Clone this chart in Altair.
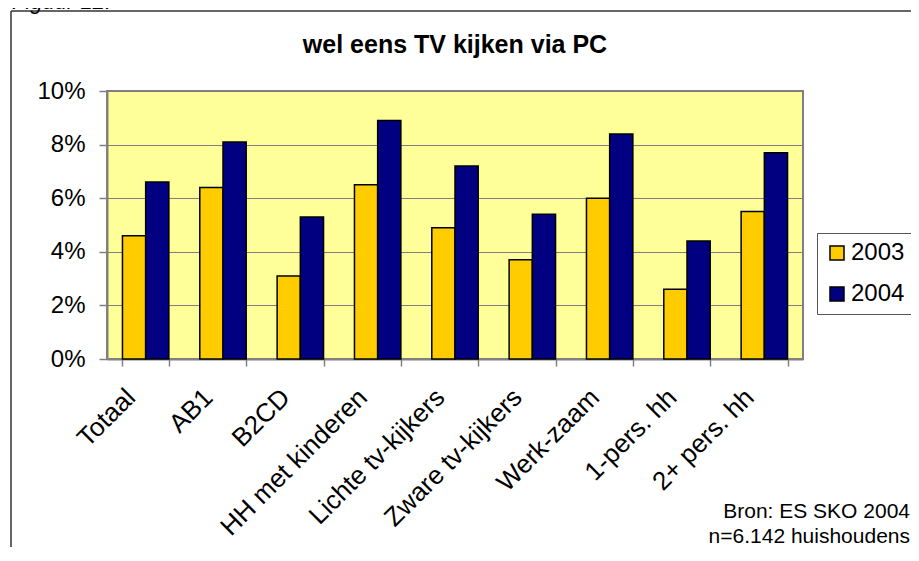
import altair as alt
import pandas as pd

categories = ["Totaal", "AB1", "B2CD", "HH met kinderen", "Lichte tv-kijkers",
              "Zware tv-kijkers", "Werk-zaam", "1-pers. hh", "2+ pers. hh"]
years = ["2003", "2004"]
v2003 = [4.6, 6.4, 3.1, 6.5, 4.9, 3.7, 6.0, 2.6, 5.5]
v2004 = [6.6, 8.1, 5.3, 8.9, 7.2, 5.4, 8.4, 4.4, 7.7]
y_ticks = [0, 2, 4, 6, 8, 10]
colors = ["#FFCC00", "#000080"]
title_text = "wel eens TV kijken via PC"
figure_label = "Figuur 12."
source_lines = ["Bron: ES SKO 2004", "n=6.142 huishoudens"]

rows = []
for c, a, b in zip(categories, v2003, v2004):
    rows.append({"cat": c, "year": years[0], "val": a})
    rows.append({"cat": c, "year": years[1], "val": b})
df = pd.DataFrame(rows)

W, H = 696, 268
FONT = "Liberation Sans"

bars = alt.Chart(df).mark_bar(stroke="black", strokeWidth=1.5).encode(
    x=alt.X("cat:N", sort=categories, title=None,
            scale=alt.Scale(paddingInner=0.4, paddingOuter=0.2),
            axis=alt.Axis(labelAngle=-45, labelAlign="right", labelBaseline="middle",
                          labelFontSize=26, labelFont=FONT, labelColor="black",
                          labelLimit=400, labelOverlap=False,
                          tickBand="extent", tickSize=7, tickColor="#808080", tickWidth=1.5,
                          domainColor="#808080", domainWidth=2,
                          labelPadding=27, labelOffset=-15, grid=False)),
    xOffset=alt.XOffset("year:N", sort=years,
                        scale=alt.Scale(paddingInner=0, paddingOuter=0)),
    y=alt.Y("val:Q", title=None, scale=alt.Scale(domain=[0, 10], nice=False),
            axis=alt.Axis(values=y_ticks, labelExpr="datum.value + '%'",
                          labelFontSize=24, labelFont=FONT, labelColor="black",
                          labelPadding=14, tickSize=8, tickColor="#808080", tickWidth=1.5,
                          domainColor="#808080", domainWidth=2,
                          grid=True, gridColor="#808080", gridWidth=1, gridOpacity=1)),
    color=alt.Color("year:N", scale=alt.Scale(domain=years, range=colors),
                    legend=alt.Legend(title=None, orient="none", legendX=710, legendY=142,
                                      labelFontSize=24, labelFont=FONT, labelColor="black",
                                      symbolType="square", symbolSize=196,
                                      symbolStrokeColor="black", symbolStrokeWidth=1.5,
                                      symbolOpacity=1,
                                      padding=8, rowPadding=17, labelOffset=2,
                                      strokeColor="#555555", fillColor="white")),
)

one = pd.DataFrame({"k": [0]})

left_line = alt.Chart(one).mark_rule(color="#333333", strokeWidth=1.5).encode(
    x=alt.value(-96), y=alt.value(-80), y2=alt.value(470))
top_line = alt.Chart(one).mark_rule(color="#333333", strokeWidth=1.5).encode(
    x=alt.value(-96), x2=alt.value(840), y=alt.value(-80))

title = alt.Chart(pd.DataFrame({"t": [title_text]})).mark_text(
    font=FONT, fontSize=25, fontWeight="bold", align="center", baseline="alphabetic",
    color="black").encode(x=alt.value(W / 2), y=alt.value(-38), text="t:N")

fig = alt.Chart(pd.DataFrame({"t": [figure_label]})).mark_text(
    font=FONT, fontSize=22, fontStyle="italic", align="left", baseline="alphabetic",
    color="black").encode(x=alt.value(-95), y=alt.value(-82), text="t:N")

src = alt.Chart(pd.DataFrame({"t": source_lines, "i": [0, 1]})).mark_text(
    font=FONT, fontSize=21, align="right", baseline="alphabetic", color="black").encode(
    x=alt.value(803),
    y=alt.Y("i:Q", scale=alt.Scale(domain=[0, 1], range=[427, 452]), axis=None),
    text="t:N")

chart = alt.layer(bars, left_line, top_line, title, fig, src).resolve_scale(
    y="independent").properties(
    width=W, height=H, autosize="none",
    padding={"left": 99, "top": 83, "right": 108, "bottom": 188},
    background="white",
).configure_view(fill="#FFFF99", stroke="#808080", strokeWidth=2)

chart.save("out.html", embed_options={"renderer": "svg", "actions": False})
